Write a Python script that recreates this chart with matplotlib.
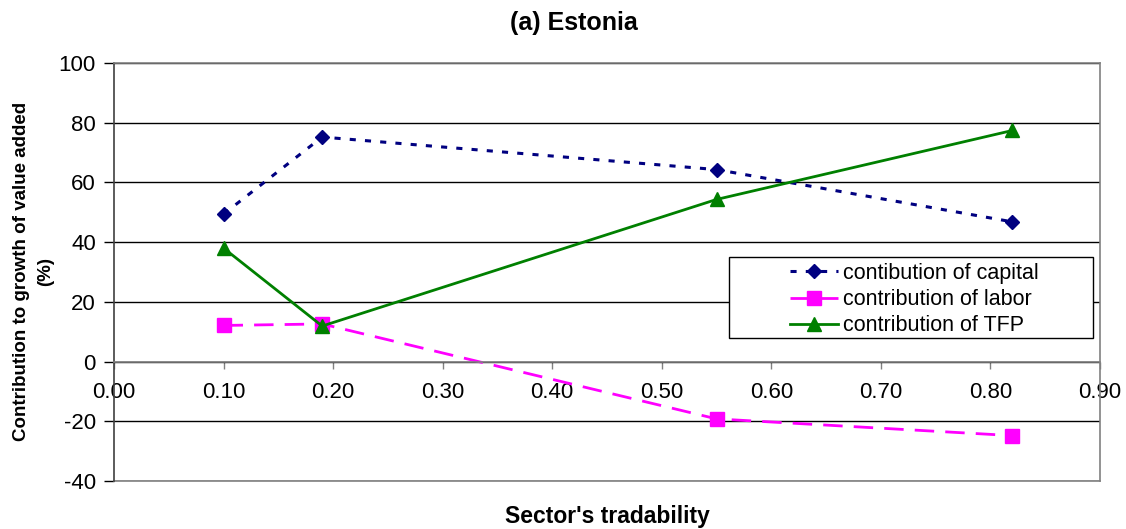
import matplotlib
matplotlib.use("Agg")
import matplotlib.pyplot as plt
from matplotlib.patches import Rectangle

tradability = [0.10, 0.19, 0.55, 0.82]
capital = [49.4, 75.2, 64.3, 46.8]
labor = [12.1, 12.6, -19.2, -24.8]
tfp = [38.0, 11.9, 54.3, 77.4]
xticks = [0.0, 0.1, 0.2, 0.3, 0.4, 0.5, 0.6, 0.7, 0.8, 0.9]
yticks = [-40, -20, 0, 20, 40, 60, 80, 100]

plt.rcParams['font.family'] = ['Liberation Sans', 'DejaVu Sans']
plt.rcParams['axes.unicode_minus'] = False

fig = plt.figure(figsize=(11.26, 5.29), dpi=100)
ax = fig.add_axes([114/1126, 1-481/529, 986/1126, 418/529])

ax.set_xlim(0, 0.9)
ax.set_ylim(-40, 100)
ax.set_xticks(xticks)
ax.set_xticklabels([f"{v:.2f}" for v in xticks])
ax.set_yticks(yticks)
ax.yaxis.grid(True, color='black', linewidth=1)
ax.set_axisbelow(True)

for s in ['top', 'right']:
    ax.spines[s].set_color('#808080')
    ax.spines[s].set_linewidth(1.2)
ax.spines['left'].set_color('#404040')
ax.spines['left'].set_linewidth(1.2)
ax.spines['bottom'].set_position(('data', 0))
ax.spines['bottom'].set_color('#808080')
ax.spines['bottom'].set_linewidth(1.2)
ax.axhline(-40, color='#808080', linewidth=1.2, clip_on=False)

ax.tick_params(axis='y', direction='out', length=7, width=1, labelsize=16, pad=6)
ax.tick_params(axis='x', direction='out', length=5, width=1, labelsize=16, pad=10, color='#808080')

ax.plot(tradability, capital, color='#000080', linestyle=(0, (2, 3)), linewidth=2.2,
        marker='D', markersize=7.5, label='contibution of capital')
ax.plot(tradability, labor, color='#FF00FF', linestyle=(0, (7, 4)), linewidth=2,
        marker='s', markersize=9.5, label='contribution of labor')
ax.plot(tradability, tfp, color='#008000', linestyle='-', linewidth=2,
        marker='^', markersize=10, label='contribution of TFP')

# legend frame box
ax.add_patch(Rectangle((0.624, 0.342), 0.369, 0.194, transform=ax.transAxes,
                       facecolor='white', edgecolor='black', linewidth=1, zorder=4))
leg = ax.legend(loc='center left', bbox_to_anchor=(0.686, 0.434), frameon=False,
                fontsize=15.5, borderaxespad=0, handlelength=2.2, handletextpad=0.25,
                labelspacing=0.25, borderpad=0)
leg.set_zorder(5)

fig.text(574/1126, 1-23/529, '(a) Estonia', ha='center', va='center', fontsize=18, fontweight='bold')
fig.text(607/1126, 1-516/529, "Sector's tradability", ha='center', va='center', fontsize=16.5, fontweight='bold')
fig.text(34/1126, 1-271/529, 'Contribution to growth of value added\n(%)', ha='center', va='center',
         rotation=90, fontsize=13.5, fontweight='bold', linespacing=1.55)

fig.savefig('out.png', dpi=100)
